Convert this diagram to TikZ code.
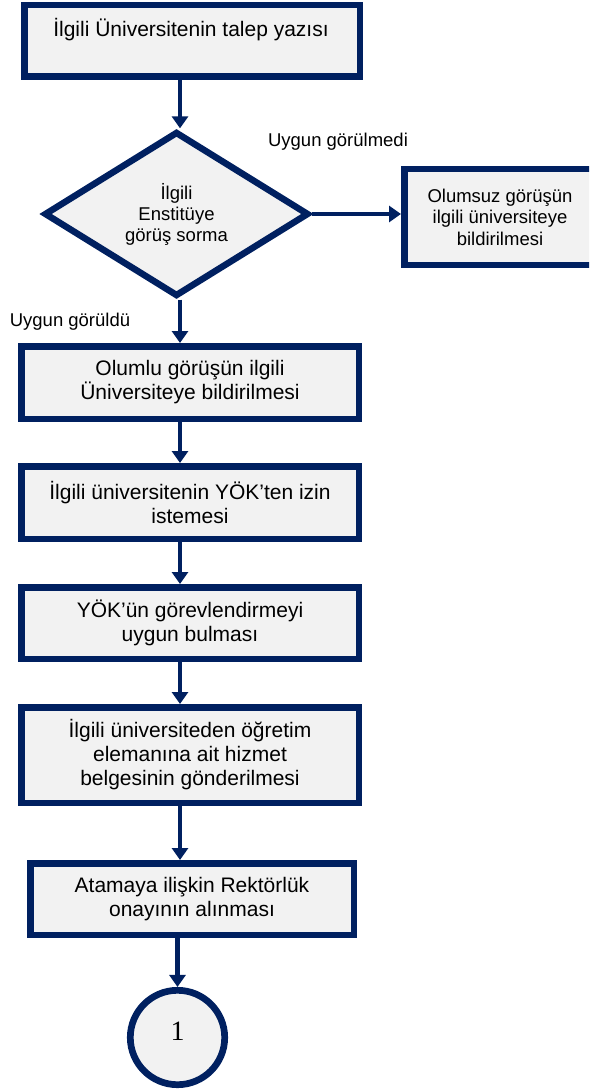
\documentclass[tikz,border=0pt]{standalone}
\usepackage{fontspec}
\setmainfont{Liberation Sans}
\newfontfamily\digitfont{Liberation Serif}
\usetikzlibrary{shapes.geometric,arrows.meta}
\definecolor{navy}{RGB}{0,32,96}
\definecolor{boxfill}{RGB}{242,242,242}
\begin{document}
\begin{tikzpicture}[x=1pt,y=-1pt,
  stepbox/.style={draw=navy,fill=boxfill,line width=6.5pt,rectangle,inner sep=0pt,align=center,font=\fontsize{21}{24}\selectfont},
  smallbox/.style={stepbox,font=\fontsize{18.5}{21.5}\selectfont},
  decision/.style={draw=navy,fill=boxfill,line width=6.5pt,diamond,inner sep=0pt,align=center,font=\fontsize{18.5}{21}\selectfont},
  flow/.style={draw=navy,line width=4.5pt,-{Triangle[width=16pt,length=12pt]}},
  lbl/.style={font=\fontsize{18.5}{21.5}\selectfont,inner sep=0pt},
  smalltext/.style={font=\fontsize{18.5}{21.5}\selectfont,inner sep=0pt,align=center},
  maintext/.style={font=\fontsize{21}{24}\selectfont,inner sep=0pt}]
\useasboundingbox (0,0) rectangle (589,1091);
\clip (0,0) rectangle (589,1091);
\coordinate (col) at (180,0);
% nodes
\node[stepbox,minimum width=335.5pt,minimum height=71.5pt] (start) at (192,41) {};
\node[maintext,anchor=base] (starttext) at (191,37) {İlgili Üniversitenin talep yazısı};
\node[decision,minimum width=264.6pt,minimum height=164.4pt] (ask) at (176.5,214) {İlgili\\Enstitüye\\görüş sorma};
\node[smallbox,minimum width=291.5pt,minimum height=95.5pt] (neg) at (550,217) {};
\node[smalltext] (negtext) at (500,217) {Olumsuz görüşün\\ilgili üniversiteye\\bildirilmesi};
\node[stepbox,minimum width=337.5pt,minimum height=72.5pt] (pos) at (190,382.5) {Olumlu görüşün ilgili\\Üniversiteye bildirilmesi};
\node[stepbox,minimum width=337.5pt,minimum height=72.5pt] (yok) at (190,502.5) {İlgili üniversitenin YÖK’ten izin\\istemesi};
\node[stepbox,minimum width=337.5pt,minimum height=71.5pt] (uygun) at (190,623) {YÖK’ün görevlendirmeyi\\uygun bulması};
\node[stepbox,minimum width=337.5pt,minimum height=95.5pt] (belge) at (190,755) {İlgili üniversiteden öğretim\\elemanına ait hizmet\\belgesinin gönderilmesi};
\node[stepbox,minimum width=323.5pt,minimum height=71.5pt] (onay) at (192,899) {Atamaya ilişkin Rektörlük\\onayının alınması};
\node[circle,draw=navy,fill=boxfill,line width=6.7pt,minimum size=94.4pt,inner sep=0pt] (conn) at (177.5,1037.5) {};
\node[font=\digitfont\fontsize{28}{28}\selectfont,inner sep=0pt,yshift=6pt] (one) at (conn.center) {1};
% labels
\node[lbl] (l1) at (338,142) {Uygun görülmedi};
\node[lbl] (l2) at (70,322) {Uygun görüldü};
% connectors
\draw[flow] (start.south -| col) -- (ask.north -| col);
\draw[flow] (ask.east) -- (ask.east -| neg.west);
\draw[flow] (ask.south -| col) -- (pos.north -| col);
\draw[flow] (pos.south -| col) -- (yok.north -| col);
\draw[flow] (yok.south -| col) -- (uygun.north -| col);
\draw[flow] (uygun.south -| col) -- (belge.north -| col);
\draw[flow] (belge.south -| col) -- (onay.north -| col);
\draw[flow] (onay.south -| conn.north) -- (conn.north);
\end{tikzpicture}
\end{document}
